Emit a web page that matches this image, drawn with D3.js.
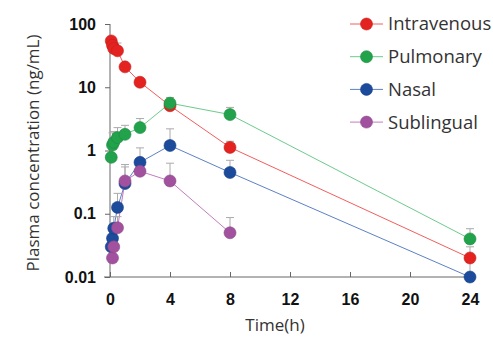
<!DOCTYPE html>
<html>
<head>
<meta charset="utf-8">
<script src="https://cdn.jsdelivr.net/npm/d3@7"></script>
<style>
  body { margin: 0; background: #fff; }
  svg { display: block; }
</style>
</head>
<body>
<div id="chart"></div>
<script>
// sampling times (h) and concentrations (ng/mL)
var ivTimes = [0.083, 0.167, 0.25, 0.5, 1, 2, 4, 8, 24];
var ivValues = [54, 46, 41, 37.7, 21, 12, 5.1, 1.12, 0.02];
var ivErrTop = [null, null, null, 50, null, null, null, 1.4, 0.03];

var pulTimes = [0.083, 0.167, 0.25, 0.5, 1, 2, 4, 8, 24];
var pulValues = [0.78, 1.22, 1.35, 1.6, 1.8, 2.3, 5.6, 3.7, 0.04];
var pulErrTop = [null, 1.9, 2.0, 2.3, 2.5, 3.2, 6.9, 4.8, 0.058];

var nasTimes = [0.083, 0.167, 0.25, 0.5, 1, 2, 4, 8, 24];
var nasValues = [0.03, 0.041, 0.059, 0.126, 0.30, 0.65, 1.2, 0.45, 0.01];
var nasErrTop = [null, null, 0.09, 0.21, 0.55, 1.1, 2.2, 0.7, 0.02];

var subTimes = [0.167, 0.25, 0.5, 1, 2, 4, 8];
var subValues = [0.02, 0.03, 0.06, 0.33, 0.47, 0.33, 0.05];
var subErrTop = [null, null, 0.09, 0.6, null, 0.63, 0.087];

var seriesNames = ["Intravenous", "Pulmonary", "Nasal", "Sublingual"];
var xTicks = [0, 4, 8, 12, 16, 20, 24];
var yTicks = [0.01, 0.1, 1, 10, 100];
var yTickLabels = ["0.01", "0.1", "1", "10", "100"];

var fills = ["#e42320", "#22a24b", "#1c4b9c", "#a2519f"];
var lineColors = ["#f25e5e", "#6dcb8c", "#5d80c6", "#c47cbe"];

function makeSeries(name, times, values, errs, i) {
    return {
        name: name, fill: fills[i], line: lineColors[i],
        points: times.map(function (t, j) {
            return { t: t, v: values[j], e: errs[j] };
        })
    };
}

var series = [
    makeSeries(seriesNames[0], ivTimes, ivValues, ivErrTop, 0),
    makeSeries(seriesNames[1], pulTimes, pulValues, pulErrTop, 1),
    makeSeries(seriesNames[2], nasTimes, nasValues, nasErrTop, 2),
    makeSeries(seriesNames[3], subTimes, subValues, subErrTop, 3)
];

var width = 493, height = 349;
var x = d3.scaleLinear().domain([0, 24]).range([110, 470]);
var y = d3.scaleLog().domain([0.01, 100]).range([277, 24]);

var svg = d3.select("#chart").append("svg")
    .attr("width", width)
    .attr("height", height);

var axisColor = "#666";
var tickFont = "'Liberation Sans', Arial, sans-serif";

// y axis
var yAxis = svg.append("g")
    .attr("transform", "translate(110,0)")
    .call(d3.axisLeft(y).tickValues(yTicks).tickSize(5).tickPadding(9)
        .tickFormat(function (d, i) { return yTickLabels[i]; }));
yAxis.select(".domain").remove();
yAxis.selectAll("line").attr("stroke", axisColor);
yAxis.selectAll("text")
    .attr("font-family", tickFont)
    .attr("font-weight", "bold")
    .attr("font-size", 16)
    .attr("fill", "#111");
svg.append("line")
    .attr("x1", 110).attr("x2", 110)
    .attr("y1", y(100)).attr("y2", 277)
    .attr("stroke", axisColor);

// x axis, ticks pointing up
var xAxis = svg.append("g")
    .attr("transform", "translate(0,277)")
    .call(d3.axisBottom(x).tickValues(xTicks).tickSizeInner(-5).tickSizeOuter(0).tickPadding(17));
xAxis.select(".domain").remove();
xAxis.selectAll("line").attr("stroke", axisColor);
xAxis.selectAll("text")
    .attr("font-family", tickFont)
    .attr("font-weight", "bold")
    .attr("font-size", 16)
    .attr("fill", "#111");
svg.append("line")
    .attr("x1", 104).attr("x2", 471)
    .attr("y1", 277).attr("y2", 277)
    .attr("stroke", axisColor);

// axis titles
svg.append("text")
    .attr("x", 275).attr("y", 331)
    .attr("text-anchor", "middle")
    .attr("font-family", "'Open Sans', sans-serif")
    .attr("font-size", 17)
    .attr("fill", "#333")
    .text("Time(h)");

svg.append("text")
    .attr("transform", "translate(39,153) rotate(-90)")
    .attr("text-anchor", "middle")
    .attr("font-family", "'Open Sans', sans-serif")
    .attr("font-size", 17)
    .attr("fill", "#333")
    .text("Plasma concentration (ng/mL)");

var line = d3.line()
    .x(function (d) { return x(d.t); })
    .y(function (d) { return y(d.v); });

// lines
svg.selectAll(".series-line")
    .data(series)
    .enter().append("path")
    .attr("class", "series-line")
    .attr("fill", "none")
    .attr("stroke", function (d) { return d.line; })
    .attr("stroke-width", 1)
    .attr("d", function (d) { return line(d.points); });

// error bars (upper only)
var errPts = [];
series.forEach(function (s) {
    s.points.forEach(function (p) { if (p.e) errPts.push(p); });
});
var eb = svg.append("g").attr("stroke", "#aaa").attr("stroke-width", 1);
eb.selectAll(".ev").data(errPts).enter().append("line")
    .attr("x1", function (d) { return x(d.t); })
    .attr("x2", function (d) { return x(d.t); })
    .attr("y1", function (d) { return y(d.v); })
    .attr("y2", function (d) { return y(d.e); });
eb.selectAll(".ec").data(errPts).enter().append("line")
    .attr("x1", function (d) { return x(d.t) - 4; })
    .attr("x2", function (d) { return x(d.t) + 4; })
    .attr("y1", function (d) { return y(d.e); })
    .attr("y2", function (d) { return y(d.e); });

// markers
series.forEach(function (s) {
    svg.append("g").selectAll("circle")
        .data(s.points)
        .enter().append("circle")
        .attr("cx", function (d) { return x(d.t); })
        .attr("cy", function (d) { return y(d.v); })
        .attr("r", 6)
        .attr("fill", s.fill)
        .attr("stroke", d3.color(s.fill).darker(0.4))
        .attr("stroke-width", 0.6);
});

// legend
var legend = svg.append("g").selectAll("g")
    .data(series)
    .enter().append("g")
    .attr("transform", function (d, i) { return "translate(0," + (24 + i * 32.7) + ")"; });
legend.append("line")
    .attr("x1", 350).attr("x2", 383)
    .attr("stroke", function (d) { return d.line; });
legend.append("circle")
    .attr("cx", 366.5).attr("r", 6)
    .attr("fill", function (d) { return d.fill; })
    .attr("stroke", function (d) { return d3.color(d.fill).darker(0.4); })
    .attr("stroke-width", 0.6);
legend.append("text")
    .attr("x", 388).attr("dy", "0.35em")
    .attr("font-family", "'Open Sans', sans-serif")
    .attr("font-size", 18.5)
    .attr("fill", "#333")
    .text(function (d) { return d.name; });
</script>
</body>
</html>
